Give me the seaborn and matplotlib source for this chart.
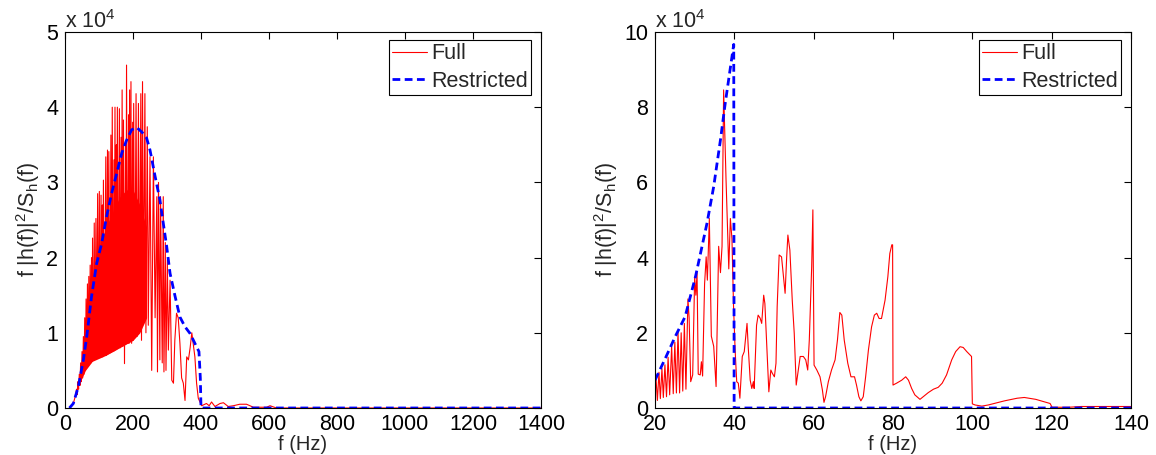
import matplotlib
matplotlib.use('Agg')
import matplotlib.pyplot as plt
import seaborn as sns

#%% Dados (valores em unidades de 1e4)

# painel esquerdo - Full
full_f_left = [14, 20, 25, 30, 34, 36, 38, 40, 42, 44, 46, 48, 50, 52, 54, 56, 58, 60, 62, 64,
               66, 68, 70, 72, 74, 76, 78, 80, 81, 84, 86, 88, 91, 93, 96, 98, 101, 103, 106, 108,
               110, 111, 113, 116, 120, 122, 125, 127, 129, 132, 135, 137, 139, 141, 144, 145, 147, 149, 151, 152,
               154, 156, 160, 162, 165, 166, 168, 170, 172, 175, 178, 179, 181, 184, 187, 188, 190, 192, 194, 196,
               199, 200, 202, 205, 209, 212, 216, 219, 223, 225, 228, 231, 235, 238, 242, 245, 250, 255, 260, 265,
               270, 272, 275, 279, 281, 286, 289, 291, 295, 297, 301, 304, 309, 314, 319, 323, 328, 333, 338, 343,
               348, 353, 358, 363, 368, 373, 377, 382, 387, 392, 397, 402, 416, 424, 431, 441, 456, 466, 480, 495,
               514, 534, 554, 593, 603, 622, 1400]
full_y_left = [0.0, 0.03, 0.07, 0.15, 0.25, 0.18, 0.35, 0.25, 0.45, 0.3, 0.6, 0.35, 0.75, 0.4, 0.95, 0.45, 1.2, 0.5, 1.45, 0.55,
               1.65, 0.58, 1.75, 0.6, 1.9, 0.6, 2.0, 0.62, 2.26, 0.64, 2.46, 0.65, 2.52, 0.66, 2.85, 0.66, 2.88, 0.67, 2.83, 0.68,
               2.7, 0.68, 3.03, 0.7, 3.34, 0.7, 3.43, 0.72, 3.41, 0.73, 3.63, 0.74, 4.0, 0.75, 3.3, 0.76, 4.0, 0.77, 3.5, 0.78,
               4.0, 0.8, 3.98, 0.8, 3.6, 0.82, 4.23, 0.82, 3.83, 0.59, 3.5, 0.85, 4.56, 0.86, 3.9, 0.86, 4.23, 0.88, 4.34, 0.86,
               3.8, 0.9, 4.05, 1.0, 4.18, 0.95, 4.05, 1.1, 4.18, 0.9, 4.34, 1.2, 4.18, 1.0, 3.74, 1.1, 3.34, 0.5, 3.34, 1.2,
               2.81, 0.48, 3.0, 0.64, 2.81, 0.6, 2.81, 0.48, 2.2, 0.5, 1.97, 0.77, 1.7, 0.37, 0.33, 0.9, 1.26, 1.2, 0.86, 0.4,
               0.33, 0.1, 0.68, 0.64, 0.8, 1.0, 0.86, 0.68, 0.33, 0.13, 0.08, 0.03, 0.06, 0.03, 0.08, 0.02, 0.06, 0.07, 0.02, 0.03,
               0.05, 0.05, 0.01, 0.01, 0.03, 0.0, 0.0]

# faixa vermelha densa (oscilacao rapida que aparece preenchida)
band_f = [45, 60, 80, 100, 120, 140, 160, 180, 200, 220, 240]
band_lo = [0.35, 0.5, 0.62, 0.66, 0.7, 0.75, 0.8, 0.85, 0.9, 1.0, 1.2]
band_hi = [0.5, 1.1, 1.7, 2.1, 2.4, 2.6, 2.8, 2.9, 2.9, 2.7, 2.4]

# painel esquerdo - Restricted
rest_f_left = [13, 24.5, 39, 54, 64, 78, 93, 108, 122, 137, 152, 167, 181, 196, 211, 226,
               240, 250, 265, 279, 289, 299, 309, 324, 338, 353, 368, 382, 394, 398, 400, 1400]
rest_y_left = [0.0, 0.06, 0.28, 0.64, 0.95, 1.48, 1.92, 2.19, 2.54, 2.85, 3.12, 3.39, 3.56, 3.7, 3.73, 3.67,
               3.59, 3.43, 3.08, 2.77, 2.46, 2.15, 1.79, 1.48, 1.21, 1.08, 0.99, 0.86, 0.75, 0.4, 0.0, 0.0]

# painel direito - Full
full_f_right = [20.0, 20.25, 20.6, 21.0, 21.35, 21.75, 22.1, 22.5, 22.9, 23.3, 23.7, 24.2, 24.6, 25.0, 25.4, 25.8,
                26.2, 26.6, 27.0, 27.4, 27.8, 28.3, 28.6, 29.0, 29.5, 30.0, 30.3, 30.6, 30.9, 31.4, 31.7, 32.0,
                32.5, 32.9, 33.2, 33.7, 34.2, 34.8, 35.4, 36.05, 36.5, 36.9, 37.3, 37.9, 38.6, 39.0, 39.4, 39.8,
                40.2, 40.6, 41.0, 41.4, 42.0, 42.5, 43.2, 43.5, 44.0, 44.4, 44.8, 45.0, 45.6, 46.0, 46.5, 46.9,
                47.4, 47.7, 48.2, 48.7, 49.2, 49.6, 50.1, 50.5, 50.8, 51.3, 51.9, 52.4, 52.8, 53.2, 53.5, 54.0,
                54.6, 55.1, 55.6, 56.0, 56.6, 57.4, 58.0, 58.5, 58.9, 59.5, 59.8, 60.1, 60.8, 61.6, 62.2, 62.6,
                63.0, 63.7, 64.5, 65.4, 66.0, 66.6, 67.1, 67.7, 68.6, 69.4, 70.3, 70.8, 71.4, 71.9, 72.5, 73.1,
                73.8, 74.6, 75.3, 75.9, 76.5, 77.1, 78.0, 78.7, 79.2, 79.7, 79.9, 80.0, 80.9, 82.2, 83.2, 83.9,
                84.7, 85.5, 86.8, 87.6, 88.9, 90.2, 91.4, 92.4, 93.5, 94.8, 95.8, 96.9, 97.7, 98.6, 99.8, 100.0,
                100.7, 102.4, 104.0, 106.6, 108.1, 111.3, 113.1, 116.0, 119.6, 120.1, 124.3, 127.5, 140.0]
full_y_right = [0.3, 0.79, 0.2, 0.95, 0.25, 1.05, 0.28, 1.15, 0.3, 1.35, 0.35, 1.65, 0.38, 1.75, 0.4, 2.05,
                0.4, 2.0, 0.45, 2.25, 0.5, 2.9, 2.4, 0.7, 0.88, 3.49, 3.0, 3.6, 0.9, 0.88, 1.23, 0.85,
                3.3, 4.02, 3.4, 5.04, 1.91, 1.64, 0.57, 4.3, 3.6, 4.3, 8.46, 6.1, 3.7, 5.04, 4.5, 2.7,
                1.54, 0.7, 0.66, 0.26, 1.37, 1.5, 2.25, 1.63, 0.74, 0.52, 0.7, 0.52, 2.2, 2.47, 2.39, 2.25,
                3.0, 2.78, 1.63, 0.43, 1.01, 0.92, 0.83, 1.19, 2.7, 4.07, 4.02, 3.49, 3.05, 4.02, 4.6, 4.2,
                2.87, 1.99, 0.61, 0.92, 1.37, 1.37, 1.28, 1.01, 1.81, 3.76, 5.27, 1.14, 1.01, 0.83, 0.48, 0.15,
                0.3, 0.7, 1.01, 1.28, 1.81, 2.54, 2.47, 1.81, 1.19, 0.83, 0.83, 0.61, 0.3, 0.19, 0.3, 0.83,
                1.54, 2.16, 2.47, 2.52, 2.38, 2.38, 2.87, 3.49, 4.11, 4.34, 4.34, 0.61, 0.66, 0.74, 0.83, 0.74,
                0.52, 0.35, 0.23, 0.30, 0.41, 0.5, 0.55, 0.66, 0.88, 1.28, 1.5, 1.63, 1.61, 1.5, 1.37, 0.11,
                0.08, 0.05, 0.08, 0.15, 0.19, 0.26, 0.28, 0.23, 0.12, 0.02, 0.02, 0.04, 0.04]

# painel direito - Restricted
rest_f_right = [20, 22.6, 25.1, 27.6, 30.2, 33.1, 34.8, 36.5, 37.7, 39.85, 39.95, 140]
rest_y_right = [0.74, 1.32, 1.9, 2.43, 3.49, 4.91, 5.89, 7.13, 8.1, 9.67, 0.0, 0.0]

#%% Estilo (parecido com MATLAB)
sns.set_style('white')
plt.rcParams['font.family'] = ['Liberation Sans', 'DejaVu Sans']
plt.rcParams['mathtext.fontset'] = 'custom'
plt.rcParams['mathtext.rm'] = 'Liberation Sans'
plt.rcParams['lines.dashed_pattern'] = [2.8, 1.6]
fs = 15.5

fig = plt.figure(figsize=(11.56, 4.55), dpi=100)
ax1 = fig.add_axes([65/1156, 47/455, 476/1156, 376/455])
ax2 = fig.add_axes([655/1156, 47/455, 476/1156, 376/455])

# faixa densa
ax1.fill_between(band_f, band_lo, band_hi, color='red', lw=0)

sns.lineplot(x=full_f_left, y=full_y_left, ax=ax1, color='red', linewidth=0.8,
             label='Full', estimator=None, sort=False)
sns.lineplot(x=rest_f_left, y=rest_y_left, ax=ax1, color='blue', linewidth=2,
             linestyle='--', label='Restricted', estimator=None, sort=False)

sns.lineplot(x=full_f_right, y=full_y_right, ax=ax2, color='red', linewidth=0.8,
             label='Full', estimator=None, sort=False)
sns.lineplot(x=rest_f_right, y=rest_y_right, ax=ax2, color='blue', linewidth=2,
             linestyle='--', label='Restricted', estimator=None, sort=False)

ax1.set_xlim(0, 1400)
ax1.set_ylim(0, 5)
ax1.set_xticks(range(0, 1401, 200))
ax1.set_yticks(range(0, 6))

ax2.set_xlim(20, 140)
ax2.set_ylim(0, 10)
ax2.set_xticks(range(20, 141, 20))
ax2.set_yticks(range(0, 11, 2))

ylab = r'f |h(f)|$^{\mathregular{2}}$/S$_{\mathregular{h}}$(f)'
for ax in (ax1, ax2):
    ax.set_xlabel('f (Hz)', fontsize=14.5, labelpad=-0.5)
    ax.set_ylabel(ylab, fontsize=fs, labelpad=3)
    ax.tick_params(direction='in', length=5, width=0.8, top=True, right=True,
                   labelsize=fs, pad=5, colors='black')
    ax.tick_params(axis='x', pad=4.5)
    for s in ax.spines.values():
        s.set_visible(True)
        s.set_color('black')
        s.set_linewidth(0.8)
    ax.text(0.0, 1.0 + 4/376, r'x 10$^{\mathregular{4}}$', transform=ax.transAxes,
            ha='left', va='baseline', fontsize=fs)
    leg = ax.legend(loc='upper right', bbox_to_anchor=(1 - 10/476, 1 - 8/376), borderaxespad=0,
                    fancybox=False, edgecolor='black', framealpha=1, fontsize=fs,
                    handlelength=1.6, handletextpad=0.2, borderpad=0.15, labelspacing=0.3)
    leg.get_frame().set_linewidth(0.8)

fig.savefig('out.png', dpi=100)
